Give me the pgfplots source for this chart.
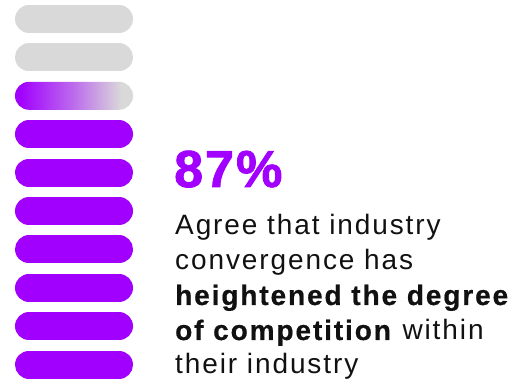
\documentclass[border=0pt]{standalone}
\usepackage{pgfplots}
\pgfplotsset{compat=1.18}
\usepackage{fontspec}
\setmainfont{Liberation Sans}
\newfontfamily\bodyfont[LetterSpace=6.8, BoldFeatures={FakeBold=0.6}]{Liberation Sans}
\newfontfamily\bigfont[LetterSpace=4, BoldFeatures={FakeBold=1.6}]{Liberation Sans}
\definecolor{acpurple}{HTML}{A100FF}
\definecolor{acgrey}{HTML}{D9D9D9}
\definecolor{txt}{HTML}{111111}
\pgfdeclarehorizontalshading{barfade}{100bp}{color(0bp)=(acpurple); color(27bp)=(acpurple); color(50bp)=(acpurple!50!acgrey); color(70bp)=(acgrey); color(100bp)=(acgrey)}
\begin{document}
\begin{tikzpicture}[x=1pt,y=1pt]
\begin{axis}[at={(29pt,-1.8pt)}, anchor=south west, scale only axis,
  width=90pt, height=384pt, xmin=0, xmax=1, ymin=0.5, ymax=10.5,
  y dir=reverse, hide axis, clip=false]
% grey (not agreeing) units
\addplot[acgrey, line width=28pt, line cap=round, unbounded coords=jump]
  coordinates {(0,1) (1,1) (nan,nan) (0,2) (1,2)};
% partial unit (0.7) drawn as gradient
\addplot[draw=none, shading=barfade, rounded corners=14pt]
  coordinates {(0.5,2.6354) (1.1556,2.6354) (1.1556,3.3646) (-0.1556,3.3646) (-0.1556,2.6354) (0.5,2.6354)};
% purple (agreeing) units
\addplot[acpurple, line width=28pt, line cap=round, unbounded coords=jump]
  coordinates {(0,4) (1,4) (nan,nan) (0,5) (1,5) (nan,nan) (0,6) (1,6) (nan,nan)
  (0,7) (1,7) (nan,nan) (0,8) (1,8) (nan,nan) (0,9) (1,9) (nan,nan) (0,10) (1,10)};
\end{axis}
\node[anchor=base west, inner sep=0, text=acpurple, font=\bigfont\bfseries\fontsize{52}{52}\selectfont] at (174,195) {87\%};
\begin{scope}[every node/.style={anchor=base west, inner sep=0, text=txt, font=\bodyfont\fontsize{28}{28}\selectfont}]
\node at (175,147) {Agree that industry};
\node at (175,112) {convergence has};
\node at (175,77) {\textbf{heightened the degree}};
\node at (175,42) {\textbf{of competition} within};
\node at (175,8) {their industry};
\end{scope}
\pgfresetboundingbox
\path[use as bounding box] (0,0) rectangle (513,382);
\end{tikzpicture}
\end{document}
